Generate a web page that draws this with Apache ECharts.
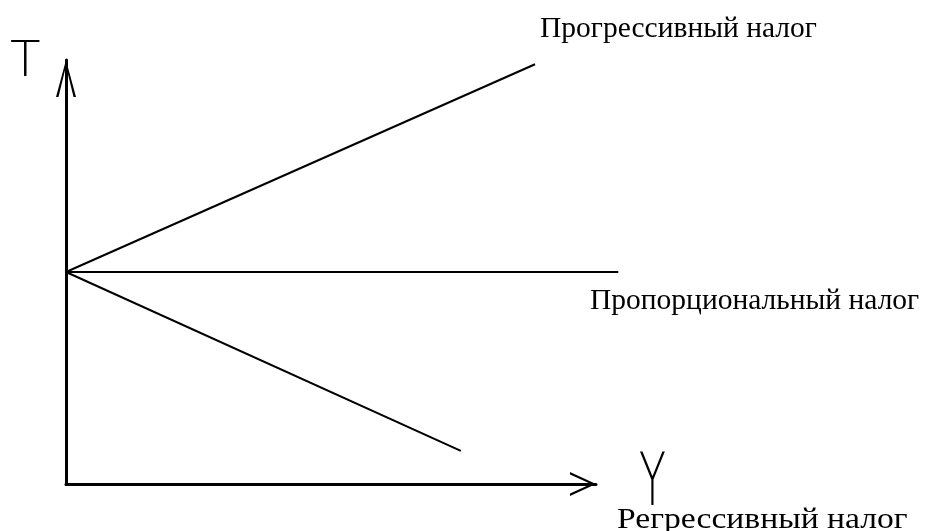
<!DOCTYPE html>
<html>
<head>
<meta charset="utf-8">
<script src="https://cdn.jsdelivr.net/npm/echarts@6/dist/echarts.min.js"></script>
<style>html,body{margin:0;padding:0;background:#fff}#c{width:926px;height:531px}</style>
</head>
<body>
<div id="c"></div>
<script>
const seriesNames = ['Прогрессивный налог', 'Пропорциональный налог', 'Регрессивный налог'];
const progressive = [[0, 50], [88.5, 99]];
const proportional = [[0, 50], [104.2, 50]];
const regressive = [[0, 50], [74.5, 7.8]];
const axisNames = ['Y', 'T'];

const chart = echarts.init(document.getElementById('c'), null, {renderer: 'canvas'});
const arrowX = 'path://M0,0 L12,26 L9.5,26 L0,5 L-9.5,26 L-12,26 Z';
const arrowY = 'path://M0,0 L10,37 L7.5,37 L0,6 L-7.5,37 L-10,37 Z';
function visAxis(path, size, gridIndex) {
  return {
    type: 'value', min: 0, max: 100, gridIndex: gridIndex,
    axisTick: {show: false}, axisLabel: {show: false}, splitLine: {show: false},
    axisLine: {show: true, onZero: false, lineStyle: {color: '#000', width: 3},
      symbol: ['none', path], symbolSize: size, symbolOffset: [0, -size[1] / 2]}
  };
}
function hiddenAxis(max) {
  return {type: 'value', min: 0, max: max, gridIndex: 1, show: false,
    axisLine: {show: false}, axisTick: {show: false}, axisLabel: {show: false}, splitLine: {show: false}};
}
const lineStyle = {color: '#000', width: 2};
const serif = '"Liberation Serif", "Times New Roman", serif';
chart.setOption({
  animation: false,
  backgroundColor: '#fff',
  grid: [
    {left: 66, right: 330, top: 60, bottom: 47},
    {left: 66, right: 224, top: 60, bottom: 47}
  ],
  xAxis: [visAxis(arrowX, [24, 26], 0), hiddenAxis(120)],
  yAxis: [visAxis(arrowY, [20, 37], 0), hiddenAxis(100)],
  series: [
    {name: seriesNames[0], type: 'line', xAxisIndex: 1, yAxisIndex: 1, data: progressive, symbol: 'none', clip: false, lineStyle: lineStyle},
    {name: seriesNames[1], type: 'line', xAxisIndex: 1, yAxisIndex: 1, data: proportional, symbol: 'none', clip: false, lineStyle: lineStyle},
    {name: seriesNames[2], type: 'line', xAxisIndex: 1, yAxisIndex: 1, data: regressive, symbol: 'none', clip: false, lineStyle: lineStyle}
  ],
  graphic: [
    {type: 'text', left: 540, top: 14, style: {text: seriesNames[0], font: '29.5px ' + serif, fill: '#000'}},
    {type: 'text', left: 590, top: 286, style: {text: seriesNames[1], font: '29.5px ' + serif, fill: '#000'}},
    {type: 'text', left: 617, top: 505, scaleX: 1.12, style: {text: seriesNames[2], font: '30px ' + serif, fill: '#000'}},
    {type: 'text', left: 10, top: 38, style: {text: axisNames[1], font: '300 50px "DejaVu Sans", sans-serif', fill: '#000'}},
    {type: 'text', left: 639, top: 450, scaleX: 1.0, scaleY: 1.65, style: {text: axisNames[0], font: '300 44px "DejaVu Sans", sans-serif', fill: '#000'}}
  ]
});
</script>
</body>
</html>
